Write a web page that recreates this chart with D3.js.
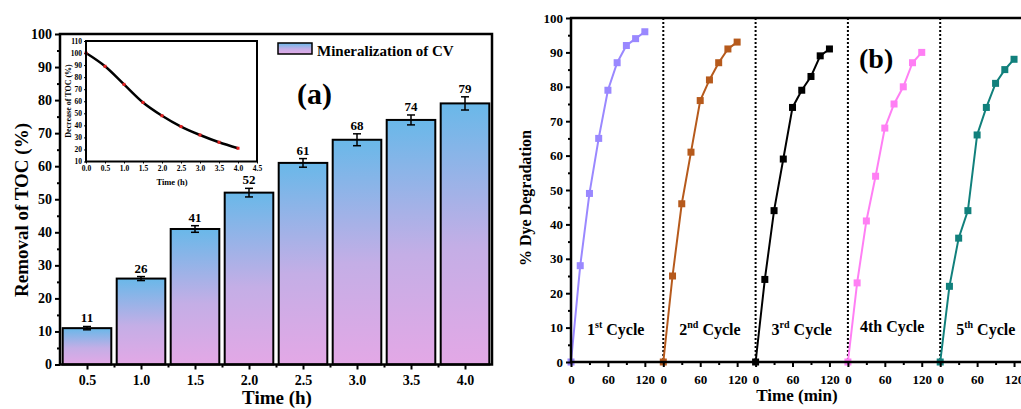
<!DOCTYPE html>
<html>
<head>
<meta charset="utf-8">
<script src="https://cdn.jsdelivr.net/npm/d3@7"></script>
<style>
  body { margin: 0; background: #fff; }
  svg { display: block; font-family: "Liberation Serif", "Times New Roman", serif; font-weight: bold; }
</style>
</head>
<body>
<svg id="chart"></svg>
<script>
// ---- data: panel (a) ----
var timesH = [0.5, 1.0, 1.5, 2.0, 2.5, 3.0, 3.5, 4.0];
var tocRemoval = [11, 26, 41, 52, 61, 68, 74, 79];
var tocError = [0.5, 0.6, 1.0, 1.3, 1.3, 1.8, 1.5, 2.0];
var insetTimes = [0, 0.5, 1.0, 1.5, 2.0, 2.5, 3.0, 3.5, 4.0];
var insetTOC = [100, 89, 74, 59, 48, 39, 32, 26, 21];

// ---- data: panel (b) ----
var cycleTimes = [0, 15, 30, 45, 60, 75, 90, 105, 120];
var cycle1 = [0, 28, 49, 65, 79, 87, 92, 94, 96];
var cycle2 = [0, 25, 46, 61, 76, 82, 87, 91, 93];
var cycle3 = [0, 24, 44, 59, 74, 79, 83, 89, 91];
var cycle4 = [0, 23, 41, 54, 68, 75, 80, 87, 90];
var cycle5 = [0, 22, 36, 44, 66, 74, 81, 85, 88];
var cycleNames = [["1", "st"], ["2", "nd"], ["3", "rd"], ["4th", ""], ["5", "th"]];
var cycleColors = ["#9a88ff", "#b65a1c", "#000000", "#ff7ff4", "#11807c"];

var svg = d3.select('#chart').attr('width', 1021).attr('height', 409);
svg.append('rect').attr('width', 1021).attr('height', 409).attr('fill', '#fff');

var defs = svg.append('defs');
var grad = defs.append('linearGradient').attr('id', 'barGrad')
  .attr('x1', 0).attr('y1', 0).attr('x2', 0).attr('y2', 1);
grad.append('stop').attr('offset', '0%').attr('stop-color', '#69b8e9');
grad.append('stop').attr('offset', '55%').attr('stop-color', '#c4aee6');
grad.append('stop').attr('offset', '100%').attr('stop-color', '#e3a8e6');

// ================= panel (a) =================
var xL = d3.scaleLinear().domain([0.25, 4.25]).range([60, 492]);
var yL = d3.scaleLinear().domain([0, 100]).range([364.5, 34]);
var gA = svg.append('g');

// bars
gA.selectAll('.bar')
  .data(timesH)
  .enter().append('rect')
  .attr('class', 'bar')
  .attr('x', function(d) { return xL(d - 0.225); })
  .attr('width', xL(0.45) - xL(0))
  .attr('y', function(d, i) { return yL(tocRemoval[i]); })
  .attr('height', function(d, i) { return yL(0) - yL(tocRemoval[i]); })
  .attr('fill', 'url(#barGrad)')
  .attr('stroke', '#000')
  .attr('stroke-width', 2);

// error bars
var eb = gA.selectAll('.err').data(timesH).enter().append('g').attr('class', 'err');
eb.append('line')
  .attr('x1', function(d) { return xL(d); })
  .attr('x2', function(d) { return xL(d); })
  .attr('y1', function(d, i) { return yL(tocRemoval[i] - tocError[i]); })
  .attr('y2', function(d, i) { return yL(tocRemoval[i] + tocError[i]); })
  .attr('stroke', '#000').attr('stroke-width', 1.5);
[-1, 1].forEach(function(s) {
  eb.append('line')
    .attr('x1', function(d) { return xL(d) - 4; })
    .attr('x2', function(d) { return xL(d) + 4; })
    .attr('y1', function(d, i) { return yL(tocRemoval[i] + s * tocError[i]); })
    .attr('y2', function(d, i) { return yL(tocRemoval[i] + s * tocError[i]); })
    .attr('stroke', '#000').attr('stroke-width', 1.5);
});

// value labels
gA.selectAll('.val').data(timesH).enter().append('text')
  .attr('x', function(d) { return xL(d); })
  .attr('y', function(d, i) { return yL(tocRemoval[i] + tocError[i]) - 4; })
  .attr('text-anchor', 'middle')
  .attr('font-size', 13)
  .text(function(d, i) { return tocRemoval[i]; });

// axes
gA.append('g').attr('transform', 'translate(60,0)')
  .call(d3.axisLeft(yL).tickValues(d3.range(0, 101, 10)).tickSize(5).tickPadding(3));
gA.append('g').attr('transform', 'translate(60,0)')
  .call(d3.axisLeft(yL).tickValues(d3.range(5, 100, 10)).tickSize(3).tickFormat(''));
gA.append('g').attr('transform', 'translate(0,364.5)')
  .call(d3.axisBottom(xL).tickValues(timesH).tickSize(5).tickPadding(6).tickFormat(d3.format('.1f')));
gA.append('g').attr('transform', 'translate(0,364.5)')
  .call(d3.axisBottom(xL).tickValues(d3.range(0.75, 4.0, 0.5)).tickSize(3).tickFormat(''));
gA.selectAll('.domain').remove();
gA.selectAll('.tick line').attr('stroke', '#000').attr('stroke-width', 2);
gA.selectAll('.tick text').attr('font-size', 14).attr('font-family', 'Liberation Serif').attr('font-weight', 'bold').attr('fill', '#000');

gA.append('rect').attr('x', 60).attr('y', 34).attr('width', 432).attr('height', 330.5)
  .attr('fill', 'none').attr('stroke', '#000').attr('stroke-width', 2.5);

gA.append('text').attr('transform', 'translate(28,210) rotate(-90)')
  .attr('text-anchor', 'middle').attr('font-size', 19).text('Removal of TOC (%)');
gA.append('text').attr('x', 277).attr('y', 404)
  .attr('text-anchor', 'middle').attr('font-size', 19).text('Time (h)');

// legend
gA.append('rect').attr('x', 278).attr('y', 43).attr('width', 34).attr('height', 11)
  .attr('fill', 'url(#barGrad)').attr('stroke', '#000').attr('stroke-width', 1.5);
gA.append('text').attr('x', 317).attr('y', 56).attr('font-size', 15).text('Mineralization of CV');
gA.append('text').attr('x', 297).attr('y', 104).attr('font-size', 30).text('(a)');

// inset
var xI = d3.scaleLinear().domain([0, 4.5]).range([86, 257]);
var yI = d3.scaleLinear().domain([10, 110]).range([161.5, 41]);
var gI = svg.append('g');
gI.append('rect').attr('x', 86).attr('y', 41).attr('width', 171).attr('height', 120.5)
  .attr('fill', '#fff');
gI.append('g').attr('transform', 'translate(86,0)')
  .call(d3.axisLeft(yI).tickValues(d3.range(10, 111, 10)).tickSize(2).tickPadding(2));
gI.append('g').attr('transform', 'translate(0,161.5)')
  .call(d3.axisBottom(xI).tickValues(d3.range(0, 4.51, 0.5)).tickSize(2).tickPadding(2).tickFormat(d3.format('.1f')));
gI.selectAll('.domain').remove();
gI.selectAll('.tick line').attr('stroke', '#000').attr('stroke-width', 1);
gI.selectAll('.tick text').attr('font-size', 7.5).attr('font-family', 'Liberation Serif').attr('font-weight', 'bold').attr('fill', '#000');

var insetLine = d3.line()
  .x(function(d, i) { return xI(insetTimes[i]); })
  .y(function(d) { return yI(d); })
  .curve(d3.curveMonotoneX);
gI.append('path').datum(insetTOC).attr('d', insetLine)
  .attr('fill', 'none').attr('stroke', '#000').attr('stroke-width', 2.5);
gI.selectAll('.ipt').data(insetTOC).enter().append('rect')
  .attr('x', function(d, i) { return xI(insetTimes[i]) - 1.5; })
  .attr('y', function(d) { return yI(d) - 1.5; })
  .attr('width', 3).attr('height', 3)
  .attr('fill', '#e52020');
gI.append('rect').attr('x', 86).attr('y', 41).attr('width', 171).attr('height', 120.5)
  .attr('fill', 'none').attr('stroke', '#000').attr('stroke-width', 2);
gI.append('text').attr('transform', 'translate(71,101) rotate(-90)')
  .attr('text-anchor', 'middle').attr('font-size', 8).text('Decrease of TOC (%)');
gI.append('text').attr('x', 172).attr('y', 185)
  .attr('text-anchor', 'middle').attr('font-size', 8.5).text('Time (h)');

// ================= panel (b) =================
var panelW = 92.3;
var x0 = 571;
var yR = d3.scaleLinear().domain([0, 100]).range([362, 18]);
var gB = svg.append('g');
var cycles = [cycle1, cycle2, cycle3, cycle4, cycle5];

// dotted separators
gB.selectAll('.sep').data([1, 2, 3, 4]).enter().append('line')
  .attr('x1', function(d) { return x0 + d * panelW; })
  .attr('x2', function(d) { return x0 + d * panelW; })
  .attr('y1', yR(100)).attr('y2', yR(0))
  .attr('stroke', '#000').attr('stroke-width', 2).attr('stroke-dasharray', '2,2');

cycles.forEach(function(vals, k) {
  var xs = d3.scaleLinear().domain([0, 150]).range([x0 + k * panelW, x0 + (k + 1) * panelW]);
  var line = d3.line()
    .x(function(d, i) { return xs(cycleTimes[i]); })
    .y(function(d) { return yR(d); });
  gB.append('path').datum(vals).attr('d', line)
    .attr('fill', 'none').attr('stroke', cycleColors[k]).attr('stroke-width', 2);
  gB.selectAll('.pt' + k).data(vals).enter().append('rect')
    .attr('x', function(d, i) { return xs(cycleTimes[i]) - 3.5; })
    .attr('y', function(d) { return yR(d) - 3.5; })
    .attr('width', 7).attr('height', 7)
    .attr('fill', cycleColors[k]);

  gB.append('g').attr('class', 'xax').attr('transform', 'translate(0,362)')
    .call(d3.axisBottom(xs).tickValues([0, 60, 120]).tickSize(5).tickPadding(8));
  gB.append('g').attr('class', 'xax').attr('transform', 'translate(0,362)')
    .call(d3.axisBottom(xs).tickValues([30, 90]).tickSize(3).tickFormat(''));

  var lbl = gB.append('text')
    .attr('x', xs(0) + (k === 3 ? 12 : 16)).attr('y', k === 3 ? 332 : 335)
    .attr('font-size', 16);
  lbl.append('tspan').text(cycleNames[k][0]);
  if (cycleNames[k][1]) {
    lbl.append('tspan').attr('font-size', 10).attr('dy', -7).text(cycleNames[k][1]);
    lbl.append('tspan').attr('dy', 7).text(' Cycle');
  } else {
    lbl.append('tspan').text(' Cycle');
  }
});

gB.append('g').attr('transform', 'translate(571,0)')
  .call(d3.axisLeft(yR).tickValues(d3.range(0, 101, 10)).tickSize(5).tickPadding(3));
gB.append('g').attr('transform', 'translate(571,0)')
  .call(d3.axisLeft(yR).tickValues(d3.range(5, 100, 10)).tickSize(3).tickFormat(''));
gB.selectAll('.domain').remove();
gB.selectAll('.tick line').attr('stroke', '#000').attr('stroke-width', 2);
gB.selectAll('.tick text').attr('font-size', 13).attr('font-family', 'Liberation Serif').attr('font-weight', 'bold').attr('fill', '#000');

gB.append('line').attr('x1', 571).attr('x2', 571).attr('y1', 17).attr('y2', 363)
  .attr('stroke', '#000').attr('stroke-width', 2.5);
gB.append('line').attr('x1', 570).attr('x2', 1021).attr('y1', 362).attr('y2', 362)
  .attr('stroke', '#000').attr('stroke-width', 2.5);
gB.append('line').attr('x1', 570).attr('x2', 1021).attr('y1', 18).attr('y2', 18)
  .attr('stroke', '#000').attr('stroke-width', 2.5);

gB.append('text').attr('transform', 'translate(531,198) rotate(-90)')
  .attr('text-anchor', 'middle').attr('font-size', 16).text('% Dye Degradation');
gB.append('text').attr('x', 797).attr('y', 401)
  .attr('text-anchor', 'middle').attr('font-size', 17).text('Time (min)');
gB.append('text').attr('x', 859).attr('y', 68).attr('font-size', 28).text('(b)');
</script>
</body>
</html>
